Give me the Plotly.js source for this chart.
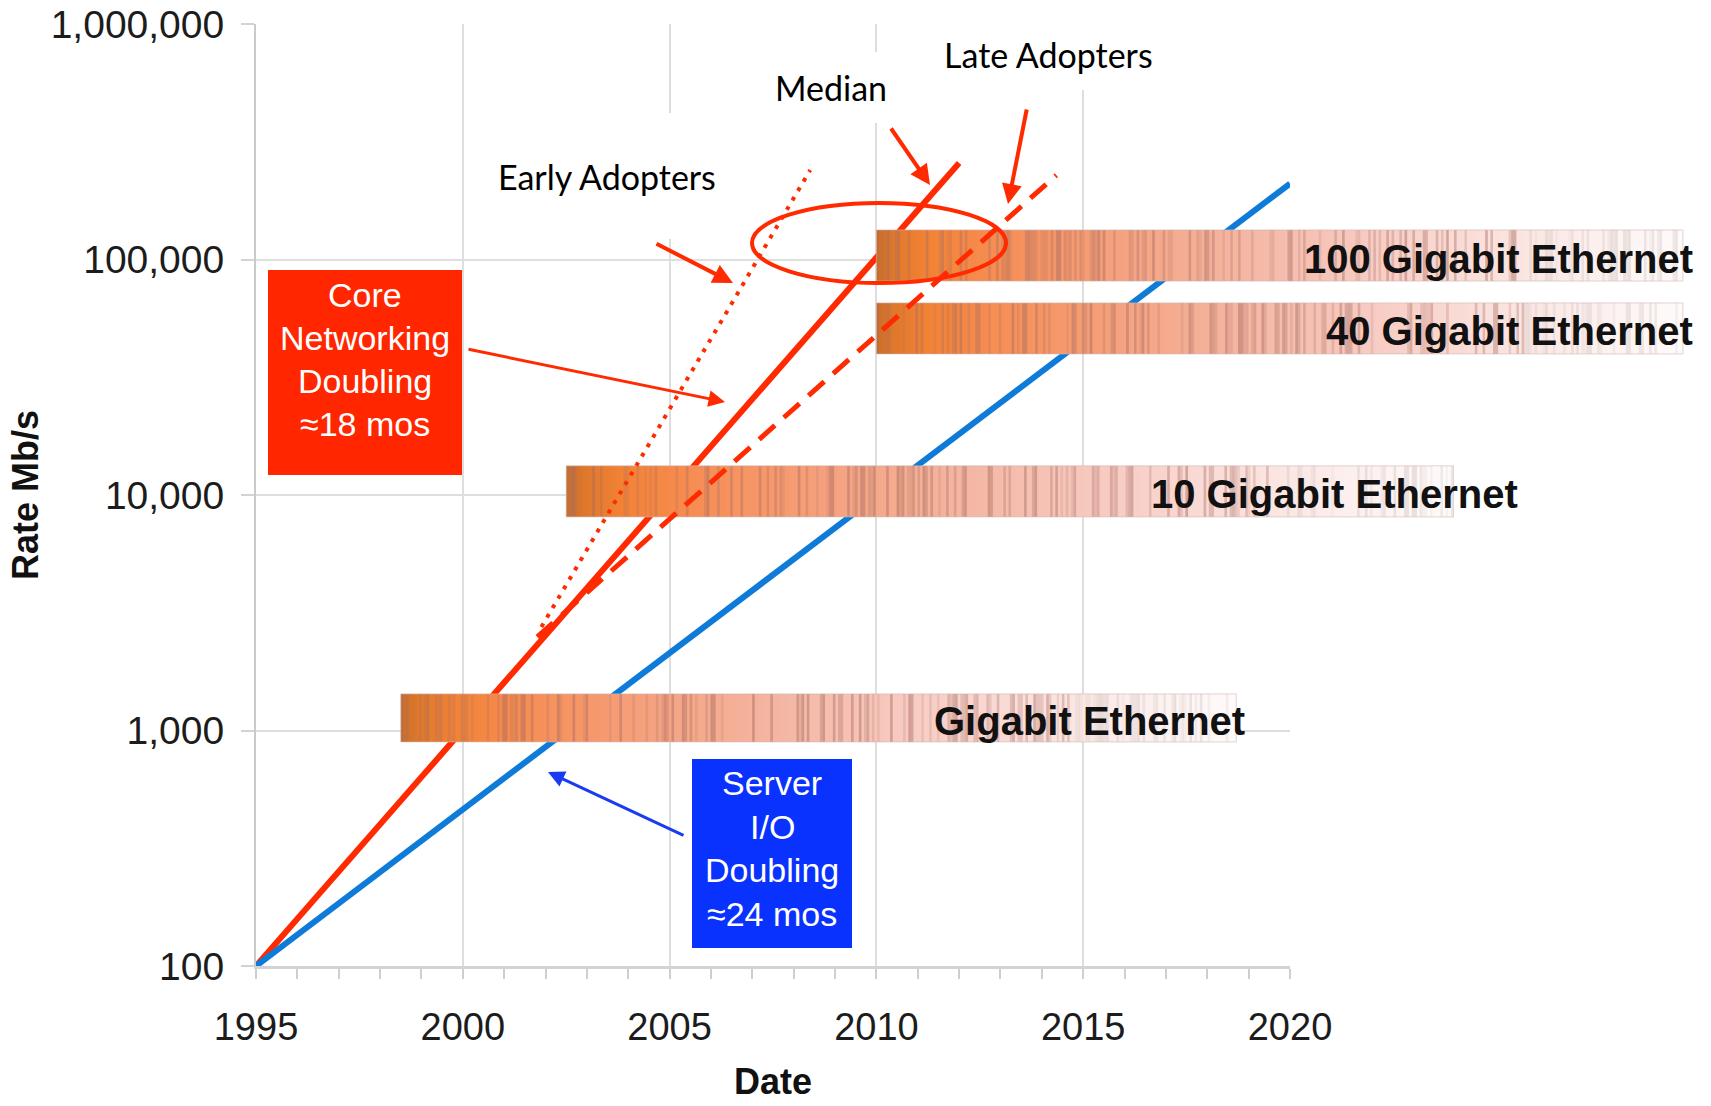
<!DOCTYPE html>
<html><head><meta charset="utf-8">
<script src="https://cdn.plot.ly/plotly-3.0.1.min.js"></script>
<style>html,body{margin:0;padding:0;background:#fff;} #chart{width:1711px;height:1106px;}</style>
</head><body><div id="chart"></div>
<script>
// ---------------- data ----------------
const xTickVals = [1995, 2000, 2005, 2010, 2015, 2020];
const xTickText = ['1995', '2000', '2005', '2010', '2015', '2020'];
const yTickVals = [100, 1000, 10000, 100000, 1000000];
const yTickText = ['100', '1,000', '10,000', '100,000', '1,000,000'];

const coreYears = [1995, 2012.0];
const coreRate = [100, 257000];
const serverYears = [1995, 2020];
const serverRate = [100, 210000];
const earlyYears = [2001.9, 2008.4];
const earlyRate = [2750, 240000];
const lateYears = [2001.8, 2014.35];
const lateRate = [2500, 228000];

const barNames = ['100 Gigabit Ethernet', '40 Gigabit Ethernet', '10 Gigabit Ethernet', 'Gigabit Ethernet'];
const barStart = [2010.0, 2010.0, 2002.5, 1998.5];
const barEnd = [2029.5, 2029.5, 2023.95, 2018.7];
const barLow = [81000, 39700, 8070, 894];
const barHigh = [133500, 65400, 13300, 1430];
const barLabelEnd = [2029.8, 2029.8, 2025.55, 2018.95];

const coreText = ['Core', 'Networking', 'Doubling', '≈18 mos'];
const serverText = ['Server', 'I/O', 'Doubling', '≈24 mos'];

// ---------------- layout constants ----------------
const W = 1711, H = 1106, ML = 256, MT = 24, MB = 140;
const plotW = W - ML, plotH = H - MT - MB;
const xPix = 1034;                      // width of the 1995-2020 axis
const x2End = 1995 + 25 * plotW / xPix;
const px = v => (v - ML) / plotW;
const py = v => (H - MB - v) / plotH;

const RED = '#ff2a00', BLUE = '#0f7bd8';
const SANS = 'Liberation Sans, Arial, sans-serif';
const GILL = 'Lato, Open Sans, sans-serif';

// ---------------- traces ----------------
const traces = [
  {x: coreYears, y: coreRate, xaxis: 'x', yaxis: 'y', mode: 'lines', line: {color: RED, width: 6}, hoverinfo: 'skip'},
  {x: serverYears, y: serverRate, xaxis: 'x', yaxis: 'y', mode: 'lines', line: {color: BLUE, width: 6}, hoverinfo: 'skip'},
  {x: earlyYears, y: earlyRate, xaxis: 'x2', yaxis: 'y2', mode: 'lines', line: {color: RED, width: 4, dash: '4px,7px'}, hoverinfo: 'skip'},
  {x: lateYears, y: lateRate, xaxis: 'x2', yaxis: 'y2', mode: 'lines', line: {color: RED, width: 5, dash: '21px,12px'}, hoverinfo: 'skip'}
];

// ---------------- gradient bars (styling only) ----------------
const stops = [
  [0.00, [203, 110, 42]], [0.02, [222, 120, 44]], [0.06, [242, 130, 52]],
  [0.15, [246, 142, 86]], [0.30, [245, 162, 128]], [0.45, [244, 182, 163]],
  [0.60, [247, 202, 193]], [0.75, [250, 223, 218]], [0.88, [252, 239, 237]], [1.00, [254, 251, 250]]
];
function gradColor(t) {
  for (let k = 1; k < stops.length; k++) {
    if (t <= stops[k][0]) {
      const a = stops[k - 1], b = stops[k];
      const f = (t - a[0]) / (b[0] - a[0]);
      return a[1].map((c, i) => c + (b[1][i] - c) * f);
    }
  }
  return stops[stops.length - 1][1];
}
function texture(j, i) {           // deterministic stripe texture
  const v = Math.sin(j * 12.9898 + i * 78.233) * 43758.5453;
  return v - Math.floor(v);
}
const shapes = [];
barNames.forEach((name, i) => {
  const s = barStart[i], e = barEnd[i];
  const n = Math.round((e - s) * xPix / 25 / 2.6);
  const step = (e - s) / n;
  for (let j = 0; j < n; j++) {
    const t = j / n;
    let c = gradColor(t);
    const h = texture(j, i);
    if (h < 0.38) {
      const k = 0.15 + 0.9 * h;
      const m = t > 0.8 ? [212, 200, 198] : [168, 108, 96];
      c = c.map((v, q) => v + (m[q] - v) * k);
    }
    const x1 = Math.min(e, s + (j + 1.35) * step);
    shapes.push({type: 'rect', xref: 'x2', yref: 'y2', layer: 'below',
      x0: s + j * step, x1: x1, y0: barLow[i], y1: barHigh[i],
      fillcolor: 'rgb(' + c.map(Math.round).join(',') + ')', line: {width: 0}});
  }
  shapes.push({type: 'rect', xref: 'x2', yref: 'y2', layer: 'below',
    x0: s, x1: e, y0: barLow[i], y1: barHigh[i],
    fillcolor: 'rgba(0,0,0,0)', line: {color: 'rgba(205,185,180,0.6)', width: 1}});
});

// white masks behind the call-out texts
[[891, 0, 1205, 90], [690, 52, 895, 123], [480, 113, 740, 239]].forEach(b => {
  shapes.push({type: 'rect', xref: 'paper', yref: 'paper', layer: 'above',
    x0: px(b[0]), x1: px(b[2]), y0: py(b[3]), y1: py(b[1]), fillcolor: '#ffffff', line: {width: 0}});
});
// ellipse
shapes.push({type: 'circle', xref: 'paper', yref: 'paper', layer: 'above',
  x0: px(752), x1: px(1006), y0: py(283), y1: py(203), line: {color: RED, width: 4}, fillcolor: 'rgba(0,0,0,0)'});
// coloured boxes
shapes.push({type: 'rect', xref: 'paper', yref: 'paper', layer: 'above',
  x0: px(268), x1: px(462), y0: py(475), y1: py(270), fillcolor: '#ff2600', line: {width: 0}});
shapes.push({type: 'rect', xref: 'paper', yref: 'paper', layer: 'above',
  x0: px(692), x1: px(852), y0: py(948), y1: py(759), fillcolor: '#0a32ff', line: {width: 0}});

// ---------------- annotations ----------------
const annotations = [];
barNames.forEach((name, i) => {
  annotations.push({xref: 'x2', yref: 'y2', x: barLabelEnd[i],
    y: (Math.log10(barLow[i]) + Math.log10(barHigh[i])) / 2, yshift: -3,
    xanchor: 'right', yanchor: 'middle', showarrow: false, text: '<b>' + name + '</b>',
    font: {family: SANS, size: 40, color: '#111'}});
});
function label(text, cx, cy, size, color, family) {
  annotations.push({xref: 'paper', yref: 'paper', x: px(cx), y: py(cy), xanchor: 'center', yanchor: 'middle',
    showarrow: false, text: text, font: {family: family, size: size, color: color}});
}
label('Early Adopters', 607, 177, 34, '#000', GILL);
label('Median', 831, 88, 34, '#000', GILL);
label('Late Adopters', 1048, 55, 34, '#000', GILL);
coreText.forEach((t, k) => label(t, 365, 295 + 43 * k, 34, '#ffffff', SANS));
serverText.forEach((t, k) => label(t, 772, 783 + 43.6 * k, 34, '#ffffff', SANS));
// x-axis title (placed lower than Plotly's margin-constrained title allows)
label('<b>Date</b>', 773, 1081, 36, '#111', SANS);

function arrow(tail, tip, color, width, size) {
  annotations.push({xref: 'paper', yref: 'paper', x: px(tip[0]), y: py(tip[1]),
    axref: 'pixel', ayref: 'pixel', ax: tail[0] - tip[0], ay: tail[1] - tip[1],
    showarrow: true, arrowhead: 2, arrowsize: size, arrowwidth: width, arrowcolor: color,
    text: '', standoff: 0, startstandoff: 0});
}
arrow([655, 243], [733, 283], RED, 4, 1);
arrow([890, 127], [930, 185], RED, 4, 1);
arrow([1027, 108], [1008, 204], RED, 4, 1);
arrow([467, 349], [725, 402], RED, 3, 1.1);
arrow([685, 836], [548, 772], '#1a3cf0', 3, 1.1);

// ---------------- layout ----------------
const GRID = '#dedede';
const layout = {
  width: W, height: H,
  margin: {l: ML, r: 0, t: MT, b: MB, pad: 0},
  paper_bgcolor: '#ffffff', plot_bgcolor: 'rgba(0,0,0,0)',
  showlegend: false,
  xaxis: {domain: [0, xPix / plotW], range: [1995, 2020], anchor: 'y',
    tickmode: 'array', tickvals: xTickVals, ticktext: xTickText,
    showgrid: true, gridcolor: GRID, gridwidth: 2, zeroline: false,
    showline: true, linecolor: '#d3d3d3', linewidth: 3,
    ticks: 'outside', ticklen: 10, tickwidth: 2, tickcolor: '#cfcfcf',
    minor: {dtick: 1, tick0: 1995, ticks: 'outside', ticklen: 10, tickwidth: 2, tickcolor: '#cfcfcf', showgrid: false},
    tickfont: {family: SANS, size: 38, color: '#1c1c1c'}, ticklabelstandoff: 15,
    fixedrange: true},
  yaxis: {type: 'log', range: [2, 6], anchor: 'x', domain: [0, 1],
    tickmode: 'array', tickvals: yTickVals, ticktext: yTickText,
    showgrid: true, gridcolor: GRID, gridwidth: 2, zeroline: false,
    showline: true, linecolor: '#cacaca', linewidth: 2,
    ticks: 'outside', ticklen: 13, tickwidth: 2, tickcolor: '#d3d3d3',
    tickfont: {family: SANS, size: 39, color: '#1c1c1c'}, ticklabelstandoff: 9,
    title: {text: '<b>Rate Mb/s</b>', font: {family: SANS, size: 36, color: '#111'}, standoff: 1},
    fixedrange: true},
  xaxis2: {domain: [0, 1], range: [1995, x2End], anchor: 'y2', visible: false, fixedrange: true},
  yaxis2: {type: 'log', range: [2, 6], anchor: 'x2', domain: [0, 1], visible: false, fixedrange: true},
  shapes: shapes,
  annotations: annotations
};

Plotly.newPlot('chart', traces, layout, {staticPlot: true, displayModeBar: false});
</script>
</body></html>
